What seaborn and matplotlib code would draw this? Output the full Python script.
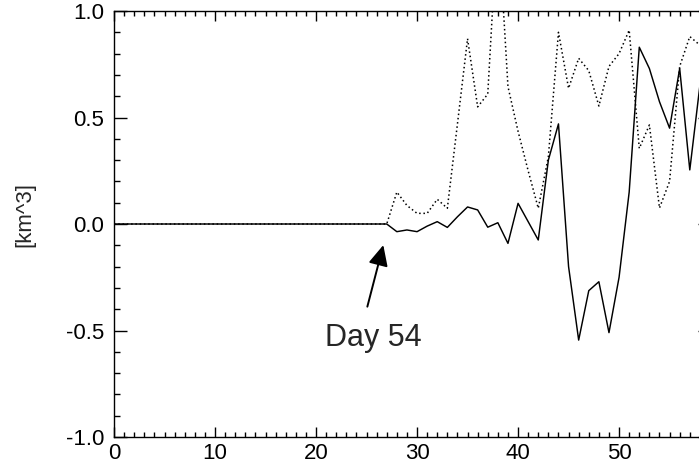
import numpy as np
import matplotlib
matplotlib.use("Agg")
import matplotlib.pyplot as plt
from matplotlib.ticker import MultipleLocator, FormatStrFormatter
import seaborn as sns

# --------------------------------------------------
# Data
# --------------------------------------------------
days = [0] + list(range(27, 59))

solid_vals = [0.0,
              0.0, -0.036, -0.028, -0.036, -0.010, 0.011, -0.016, 0.034,
              0.080, 0.066, -0.015, 0.006, -0.091, 0.097, 0.011, -0.075,
              0.300, 0.470, -0.200, -0.545, -0.313, -0.271, -0.510, -0.250,
              0.150, 0.830, 0.730, 0.574, 0.450, 0.730, 0.254, 0.650]

dotted_vals = [0.0,
               0.0, 0.150, 0.087, 0.050, 0.050, 0.116, 0.074, 0.470,
               0.870, 0.550, 0.610, 1.450, 0.645, 0.435, 0.250, 0.074,
               0.316, 0.900, 0.637, 0.778, 0.720, 0.554, 0.740, 0.800,
               0.910, 0.355, 0.465, 0.075, 0.200, 0.740, 0.880, 0.840]

x_ticks = [0, 10, 20, 30, 40, 50]
y_ticks = [-1.0, -0.5, 0.0, 0.5, 1.0]
y_label = "[km^3]"
note_text = "Day 54"

# --------------------------------------------------
# Style
# --------------------------------------------------
sns.set_style("ticks")
plt.rcParams["font.family"] = ["Liberation Sans", "DejaVu Sans"]
plt.rcParams["axes.unicode_minus"] = False

fig = plt.figure(figsize=(6.99, 4.76), dpi=100)
# axes runs a little past the right edge, like the cropped original
ax = fig.add_axes([0.16309, 0.08193, 0.85408, 0.89496])

# --------------------------------------------------
# Lines
# --------------------------------------------------
sns.lineplot(x=days, y=dotted_vals, color="black", linewidth=1.1,
             linestyle=(0, (1, 1.8)), ax=ax)
sns.lineplot(x=days, y=solid_vals, color="black", linewidth=1.05, ax=ax)

# --------------------------------------------------
# Annotation
# --------------------------------------------------
ax.annotate("", xy=(26.66, -0.099), xytext=(25.08, -0.388),
            arrowprops=dict(arrowstyle="-|>,head_length=1.25,head_width=0.6",
                            color="black", lw=1.4, shrinkA=0, shrinkB=0,
                            mutation_scale=10))
ax.text(25.64, -0.571, note_text, fontsize=22, ha="center", va="baseline")

# --------------------------------------------------
# Axes
# --------------------------------------------------
ax.set_xlim(0, 59.1)
ax.set_ylim(-1.0, 1.0)
ax.set_xticks(x_ticks)
ax.set_yticks(y_ticks)
ax.xaxis.set_minor_locator(MultipleLocator(1))
ax.yaxis.set_minor_locator(MultipleLocator(0.1))
ax.yaxis.set_major_formatter(FormatStrFormatter("%.1f"))

ax.tick_params(which="both", direction="in", top=True, right=True,
               colors="black", labelsize=16, width=1.0)
ax.tick_params(axis="x", which="major", length=7.2, pad=4)
ax.tick_params(axis="x", which="minor", length=3.4)
ax.tick_params(axis="y", which="major", length=9.4, pad=7)
ax.tick_params(axis="y", which="minor", length=4.3)

for sp in ax.spines.values():
    sp.set_visible(True)
    sp.set_color("black")
    sp.set_linewidth(1.0)

ax.set_ylabel(y_label, fontsize=16, va="center")
ax.yaxis.set_label_coords(-0.149, 0.523)

fig.savefig("out.png", dpi=100)
plt.close(fig)
print("[OK] saved out.png")
